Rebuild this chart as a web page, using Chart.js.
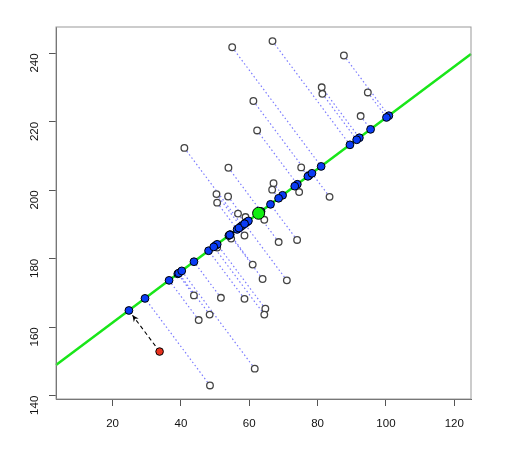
<!DOCTYPE html>
<html>
<head>
<meta charset="utf-8">
<script src="https://cdn.jsdelivr.net/npm/chart.js@4"></script>
<style>
  html, body { margin: 0; padding: 0; background: #fff; }
  #wrap { width: 512px; height: 463px; }
</style>
</head>
<body>
<div id="wrap"><canvas id="chart" width="512" height="463"></canvas></div>
<script>
// observed points (open circles)
const obsX = [55.0, 66.8, 61.2, 62.3, 41.0, 53.9, 67.1, 66.7, 50.4, 53.8,
              50.6, 56.7, 58.9, 87.7, 81.2, 81.4, 94.7, 92.6, 75.2, 74.6,
              83.5, 64.4, 54.7, 58.6, 50.6, 68.6, 61.0, 63.9, 43.8, 51.7,
              58.6, 64.7, 64.4, 48.4, 45.2, 61.6, 48.5, 74.0, 71.0];
const obsY = [241.8, 243.6, 226.1, 217.5, 212.4, 206.6, 202.1, 200.2, 198.9, 198.2,
              196.4, 193.2, 192.2, 239.4, 230.1, 228.2, 228.6, 221.7, 206.7, 199.5,
              198.1, 191.4, 185.9, 186.8, 183.3, 184.9, 178.3, 174.1, 169.3, 168.6,
              168.3, 165.4, 163.7, 163.7, 162.1, 147.9, 143.0, 185.5, 173.7];

// new point (red) and the fitted line
const newX = [33.75];
const newY = [152.9];
const centerX = [62.73];
const centerY = [193.3];
const slope = 0.748;

const xTicks = [20, 40, 60, 80, 100, 120];
const yTicks = [140, 160, 180, 200, 220, 240];
const xRange = [3.43, 124.9];
const yRange = [139.04, 247.72];

// orthogonal projection onto the line
function project(x, y) {
    const n = Math.hypot(1, slope);
    const ux = 1 / n, uy = slope / n;
    const t = (x - centerX[0]) * ux + (y - centerY[0]) * uy;
    return { x: centerX[0] + t * ux, y: centerY[0] + t * uy };
}

const obsPts = obsX.map((x, i) => ({ x: x, y: obsY[i] }));
const projPts = obsPts.map(p => project(p.x, p.y));
const newPts = newX.map((x, i) => ({ x: x, y: newY[i] }));
const newProj = newPts.map(p => project(p.x, p.y));

// dotted segments, separated by gaps
const segs = [];
obsPts.forEach((p, i) => {
    segs.push(p, projPts[i], { x: p.x, y: null });
});

const linePts = xRange.map(x => ({ x: x, y: centerY[0] + slope * (x - centerX[0]) }));

const arrowPlugin = {
    id: 'arrow',
    beforeDatasetsDraw(chart) {
        const { ctx, scales } = chart;
        const sx = scales.x, sy = scales.y;
        newPts.forEach((p, i) => {
            const x0 = sx.getPixelForValue(p.x), y0 = sy.getPixelForValue(p.y);
            const x1 = sx.getPixelForValue(newProj[i].x), y1 = sy.getPixelForValue(newProj[i].y);
            const len = Math.hypot(x1 - x0, y1 - y0);
            const dx = (x1 - x0) / len, dy = (y1 - y0) / len;
            const tx = x1 - dx * 6, ty = y1 - dy * 6;
            ctx.save();
            ctx.strokeStyle = '#000';
            ctx.lineWidth = 1.1;
            ctx.setLineDash([4, 3]);
            ctx.beginPath();
            ctx.moveTo(x0, y0);
            ctx.lineTo(tx, ty);
            ctx.stroke();
            ctx.setLineDash([]);
            const a = Math.atan2(dy, dx), h = 7, w = 0.45;
            ctx.fillStyle = '#000';
            ctx.beginPath();
            ctx.moveTo(tx, ty);
            ctx.lineTo(tx - h * Math.cos(a - w), ty - h * Math.sin(a - w));
            ctx.lineTo(tx - h * 0.6 * Math.cos(a), ty - h * 0.6 * Math.sin(a));
            ctx.lineTo(tx - h * Math.cos(a + w), ty - h * Math.sin(a + w));
            ctx.closePath();
            ctx.fill();
            ctx.restore();
        });
    },
    afterDraw(chart) {
        const { ctx, chartArea: a } = chart;
        ctx.save();
        ctx.strokeStyle = '#999';
        ctx.lineWidth = 1;
        ctx.strokeRect(a.left, a.top, a.right - a.left, a.bottom - a.top);
        ctx.restore();
    }
};

new Chart(document.getElementById('chart'), {
    type: 'scatter',
    data: {
        datasets: [
            { label: 'center', data: centerX.map((x, i) => ({ x: x, y: centerY[i] })), order: 0,
              pointRadius: 6, backgroundColor: '#10ee10', borderColor: '#000', borderWidth: 1 },
            { label: 'new', data: newPts, order: 1,
              pointRadius: 3.8, backgroundColor: '#e8321e', borderColor: '#000', borderWidth: 1 },
            { label: 'newproj', data: newProj, order: 2,
              pointRadius: 3.9, backgroundColor: '#0a3cf5', borderColor: '#000', borderWidth: 1 },
            { label: 'proj', data: projPts, order: 2,
              pointRadius: 3.9, backgroundColor: '#0a3cf5', borderColor: '#000', borderWidth: 1 },
            { label: 'obs', data: obsPts, order: 3,
              pointRadius: 3.3, backgroundColor: '#fff', borderColor: '#444', borderWidth: 1.3 },
            { label: 'segs', type: 'line', data: segs, order: 5, showLine: true, spanGaps: false,
              pointRadius: 0, borderColor: '#7c7cff', borderWidth: 1.2, borderDash: [1.5, 2.5] },
            { label: 'line', type: 'line', data: linePts, order: 6, showLine: true,
              pointRadius: 0, borderColor: '#19e619', borderWidth: 2.5 }
        ]
    },
    options: {
        responsive: false,
        animation: false,
        events: [],
        clip: false,
        layout: { padding: { left: 0, top: 27, right: 41, bottom: 0 } },
        plugins: { legend: { display: false }, tooltip: { enabled: false } },
        scales: {
            x: {
                type: 'linear', min: xRange[0], max: xRange[1],
                afterBuildTicks: s => { s.ticks = xTicks.map(v => ({ value: v })); },
                afterFit: s => { s.height = 64; },
                grid: { drawOnChartArea: false, drawTicks: true, tickLength: 7, color: '#555' },
                border: { display: true, color: '#555' },
                ticks: { color: '#111', padding: 11, maxRotation: 0,
                         font: { family: 'Liberation Sans', size: 11.5 } }
            },
            y: {
                type: 'linear', min: yRange[0], max: yRange[1],
                afterBuildTicks: s => { s.ticks = yTicks.map(v => ({ value: v })); },
                afterFit: s => { s.width = 56; },
                grid: { drawOnChartArea: false, drawTicks: true, tickLength: 7, color: '#555' },
                border: { display: true, color: '#555' },
                ticks: { color: '#111', padding: 14, minRotation: 90, maxRotation: 90,
                         font: { family: 'Liberation Sans', size: 11.5 } }
            }
        }
    },
    plugins: [arrowPlugin]
});
</script>
</body>
</html>
